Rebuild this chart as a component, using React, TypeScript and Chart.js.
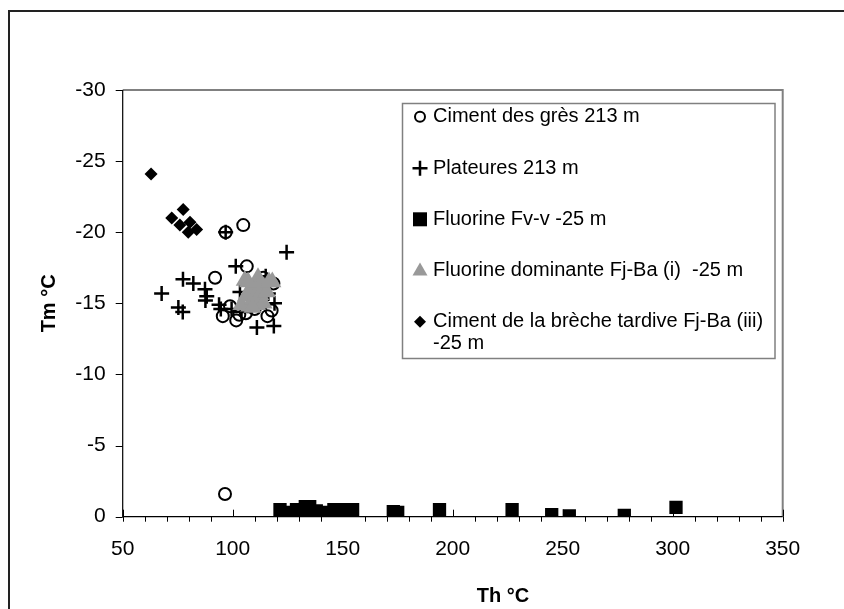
import React, { useEffect, useRef } from "react";
import { Chart, registerables } from "chart.js";

Chart.register(...registerables);

// ---- Data (Th °C, Tm °C) ----
const cimentGres: [number, number][] = [
  [96.5, -1.6], [96.8, -20.0], [104.8, -20.5], [106.4, -17.6], [92.0, -16.8],
  [113.9, -16.8], [118.5, -16.4], [95.5, -14.1], [101.6, -13.8], [117.7, -14.5],
  [115.8, -14.1], [98.8, -14.8], [106.0, -14.3], [110.0, -14.6], [103.0, -14.2],
];
const plateures: [number, number][] = [
  [67.7, -15.7], [75.3, -14.7], [77.3, -14.4], [77.4, -16.7], [82.1, -16.4],
  [87.4, -16.0], [88.2, -15.5], [87.6, -15.2], [93.8, -14.9], [94.6, -14.6],
  [101.4, -17.6], [96.8, -20.0], [124.5, -18.6], [111.0, -13.3], [118.7, -13.4],
  [103.3, -15.8], [116.2, -15.7], [99.5, -14.6], [104.0, -14.4], [108.0, -15.0],
  [112.0, -15.2], [115.0, -16.9], [119.0, -15.0], [117.0, -16.3],
];
const fluorineFvv: [number, number][] = [
  [121.5, -0.5], [122, -0.05], [125, -0.3], [127, -0.05], [129, -0.5], [131, -0.2],
  [133, -0.7], [135, -0.7], [136, -0.1], [138, -0.4], [140, -0.05], [142, -0.3],
  [144, -0.05], [146, -0.5], [148, -0.45], [150, -0.5], [153, -0.5], [154.5, -0.5],
  [173, -0.35], [175, -0.3], [194, -0.5], [227, -0.5], [245, -0.15], [253, -0.05],
  [278, -0.1], [301.5, -0.65],
];
const fluorineDominante: [number, number][] = [
  [105.5, -16.6], [111.5, -16.8], [118, -16.5], [104, -14.9], [106, -15.5],
  [107.5, -14.8], [108, -16.0], [109.5, -15.3], [110, -16.2], [111, -14.9],
  [112.5, -15.6], [113, -16.3], [114, -15.0], [115.5, -15.8], [116.5, -16.5],
  [107, -16.5], [109, -14.7],
];
const cimentBreche: [number, number][] = [
  [62.9, -24.1], [72.3, -21.0], [77.5, -21.6], [76.0, -20.5], [80.6, -20.7],
  [79.8, -20.0], [83.6, -20.2],
];

const LEGEND_LINES: string[][] = [
  ["Ciment des grès 213 m"],
  ["Plateures 213 m"],
  ["Fluorine Fv-v -25 m"],
  ["Fluorine dominante Fj-Ba (i)  -25 m"],
  ["Ciment de la brèche tardive Fj-Ba (iii)", "-25 m"],
];
const X_TITLE = "Th °C";
const Y_TITLE = "Tm °C";
const X_MIN = 50, X_MAX = 350, X_STEP = 50, X_MINOR = 10;
const Y_MIN = -30, Y_MAX = 0, Y_STEP = 5;

const FONT = '"Liberation Sans", Arial, Helvetica, sans-serif';
const GRAY_TRI = "#999999";

type Shape = "circle" | "cross" | "rect" | "triangle" | "rectRot";
const LEGEND_SHAPES: Shape[] = ["circle", "cross", "rect", "triangle", "rectRot"];

function drawMarker(ctx: CanvasRenderingContext2D, shape: Shape, x: number, y: number) {
  ctx.save();
  ctx.lineWidth = 2;
  ctx.strokeStyle = "#000";
  ctx.fillStyle = "#000";
  ctx.beginPath();
  if (shape === "circle") {
    ctx.arc(x, y, 5, 0, Math.PI * 2);
    ctx.stroke();
  } else if (shape === "cross") {
    ctx.lineWidth = 2.5;
    ctx.moveTo(x - 7.5, y); ctx.lineTo(x + 7.5, y);
    ctx.moveTo(x, y - 7.5); ctx.lineTo(x, y + 7.5);
    ctx.stroke();
  } else if (shape === "rect") {
    ctx.rect(x - 7, y - 7, 14, 14);
    ctx.fill();
  } else if (shape === "triangle") {
    ctx.fillStyle = GRAY_TRI;
    ctx.moveTo(x, y - 7.5);
    ctx.lineTo(x + 7.5, y + 5.5);
    ctx.lineTo(x - 7.5, y + 5.5);
    ctx.closePath();
    ctx.fill();
  } else {
    ctx.moveTo(x, y - 6); ctx.lineTo(x + 6, y); ctx.lineTo(x, y + 6); ctx.lineTo(x - 6, y);
    ctx.closePath();
    ctx.fill();
  }
  ctx.restore();
}

const decor = {
  id: "decor",
  beforeDraw(chart: any) {
    const ctx = chart.ctx as CanvasRenderingContext2D;
    ctx.save();
    ctx.fillStyle = "#fff";
    ctx.fillRect(0, 0, chart.width, chart.height);
    ctx.strokeStyle = "#222";
    ctx.lineWidth = 2;
    ctx.strokeRect(9, 11, 1200, 1000);
    ctx.restore();
  },
  afterDraw(chart: any) {
    const ctx = chart.ctx as CanvasRenderingContext2D;
    const { left, right, top, bottom } = chart.chartArea;
    const xs = chart.scales.x;
    const ys = chart.scales.y;
    ctx.save();
    // plot frame top & right (gray)
    ctx.strokeStyle = "#808080";
    ctx.lineWidth = 2;
    ctx.beginPath();
    ctx.moveTo(left, top);
    ctx.lineTo(right, top);
    ctx.lineTo(right, bottom);
    ctx.stroke();
    // axes lines
    ctx.strokeStyle = "#000";
    ctx.lineWidth = 1.2;
    ctx.beginPath();
    ctx.moveTo(left, top);
    ctx.lineTo(left, bottom);
    ctx.lineTo(right, bottom);
    ctx.stroke();
    // y ticks (outside)
    ctx.lineWidth = 1;
    ctx.beginPath();
    for (let v = Y_MIN; v <= Y_MAX; v += Y_STEP) {
      const p = Math.round(ys.getPixelForValue(v)) + 0.5;
      ctx.moveTo(left - 7, p);
      ctx.lineTo(left, p);
    }
    // x major ticks (inside) and minor ticks (outside)
    for (let v = X_MIN; v <= X_MAX; v += X_MINOR) {
      const p = Math.round(xs.getPixelForValue(v)) + 0.5;
      if (v % X_STEP === 0) {
        ctx.moveTo(p, bottom - 7);
        ctx.lineTo(p, bottom);
      }
      if (v % X_STEP !== 0 || v === X_MIN || v === X_MAX) {
        ctx.moveTo(p, bottom);
        ctx.lineTo(p, bottom + 5);
      }
    }
    ctx.stroke();

    // axis titles
    ctx.fillStyle = "#000";
    ctx.font = `bold 20px ${FONT}`;
    ctx.textAlign = "center";
    ctx.textBaseline = "middle";
    ctx.fillText(X_TITLE, 503, 596);
    ctx.save();
    ctx.translate(49, (top + bottom) / 2);
    ctx.rotate(-Math.PI / 2);
    ctx.fillText(Y_TITLE, 0, 0);
    ctx.restore();

    // legend box
    const lx = 402.5, ly = 103.5, lw = 372.5, lh = 255;
    ctx.fillStyle = "#fff";
    ctx.fillRect(lx, ly, lw, lh);
    ctx.strokeStyle = "#808080";
    ctx.lineWidth = 1.5;
    ctx.strokeRect(lx, ly, lw, lh);
    const rowY = [116.7, 168.3, 219.3, 270, 321.7];
    ctx.font = `20px ${FONT}`;
    ctx.textAlign = "left";
    ctx.textBaseline = "middle";
    LEGEND_LINES.forEach((lines, i) => {
      drawMarker(ctx, LEGEND_SHAPES[i], 420, rowY[i]);
      ctx.fillStyle = "#000";
      lines.forEach((t, j) => {
        ctx.fillText(t, 433, rowY[i] + j * 22);
      });
    });
    ctx.restore();
  },
};

export default function App() {
  const ref = useRef<HTMLCanvasElement | null>(null);
  useEffect(() => {
    if (!ref.current) return;
    const toXY = (arr: [number, number][]) => arr.map(([x, y]) => ({ x, y }));
    const chart = new Chart(ref.current, {
      type: "scatter",
      data: {
        datasets: [
          {
            label: LEGEND_LINES[0].join(" "),
            data: toXY(cimentGres),
            pointStyle: "circle",
            pointRadius: 6,
            borderWidth: 2,
            borderColor: "#000",
            backgroundColor: "rgba(0,0,0,0)",
            order: 5,
          },
          {
            label: LEGEND_LINES[1].join(" "),
            data: toXY(plateures),
            pointStyle: "cross",
            pointRadius: 7.5,
            borderWidth: 2.5,
            borderColor: "#000",
            backgroundColor: "#000",
            order: 4,
          },
          {
            label: LEGEND_LINES[2].join(" "),
            data: toXY(fluorineFvv),
            pointStyle: "rect",
            pointRadius: 9.4,
            borderWidth: 0,
            borderColor: "#000",
            backgroundColor: "#000",
            order: 3,
          },
          {
            label: LEGEND_LINES[3].join(" "),
            data: toXY(fluorineDominante),
            pointStyle: "triangle",
            pointRadius: 10.5,
            borderWidth: 0,
            borderColor: GRAY_TRI,
            backgroundColor: GRAY_TRI,
            order: 2,
          },
          {
            label: LEGEND_LINES[4].join(" "),
            data: toXY(cimentBreche),
            pointStyle: "rectRot",
            pointRadius: 6.5,
            borderWidth: 0,
            borderColor: "#000",
            backgroundColor: "#000",
            order: 1,
          },
        ],
      },
      options: {
        responsive: false,
        animation: false,
        layout: { padding: { left: 0, top: 90, right: 61.3, bottom: 0 } },
        plugins: { legend: { display: false }, tooltip: { enabled: false } },
        scales: {
          x: {
            type: "linear",
            min: X_MIN,
            max: X_MAX,
            ticks: {
              stepSize: X_STEP,
              color: "#000",
              font: { family: FONT, size: 21 },
              padding: 20,
            },
            grid: { display: false, drawTicks: false },
            border: { display: false },
            afterFit: (s: any) => { s.height = 92.3; },
          },
          y: {
            type: "linear",
            min: Y_MIN,
            max: Y_MAX,
            reverse: true,
            ticks: {
              stepSize: Y_STEP,
              color: "#000",
              font: { family: FONT, size: 21 },
              padding: 17,
            },
            grid: { display: false, drawTicks: false },
            border: { display: false },
            afterFit: (s: any) => { s.width = 122.7; },
          },
        },
      },
      plugins: [decor],
    });
    return () => chart.destroy();
  }, []);
  return (
    <canvas
      ref={ref}
      width={844}
      height={609}
      style={{ position: "absolute", left: 0, top: 0, display: "block" }}
    />
  );
}
